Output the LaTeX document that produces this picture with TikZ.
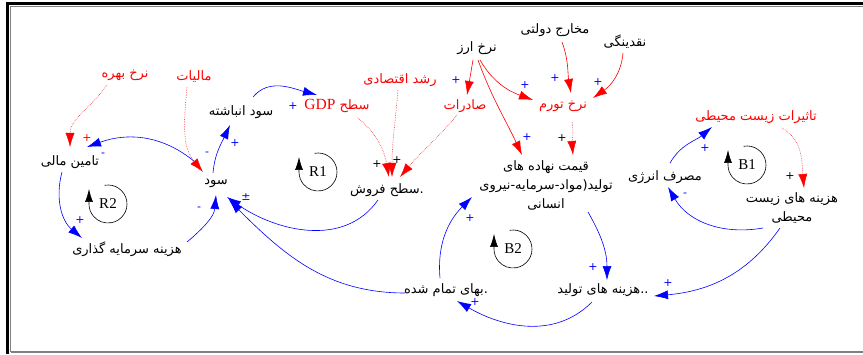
\documentclass[tikz,border=0pt]{standalone}
\usepackage{fontspec}
\setmainfont{Liberation Serif}
\newfontfamily\farsi[Script=Arabic]{DejaVu Sans}
\TeXXeTstate=1
\usetikzlibrary{arrows.meta, calc}
\newcommand{\fatxt}[1]{\beginR #1\endR}

\begin{document}
\begin{tikzpicture}[x=1pt, y=1pt,
    word/.style={font=\farsi\fontsize{13}{19}\selectfont, inner sep=1pt, align=center},
    redword/.style={word, text=red},
    sign/.style={font=\farsi\fontsize{11}{12}\selectfont, inner sep=0pt, text=blue},
    blacksign/.style={sign, text=black},
    redsign/.style={sign, text=red},
    bluelink/.style={blue, line width=0.6pt, -{Latex[length=14pt,width=9pt]}},
    redlink/.style={red, line width=0.6pt, -{Latex[length=14pt,width=9pt]}},
    reddots/.style={red, line width=0.5pt, dash pattern=on 0.6pt off 1.1pt, -{Latex[length=14pt,width=9pt]}},
    loopname/.style={font=\fontsize{15}{18}\selectfont, inner sep=0pt},
    looparrow/.style={black, line width=0.6pt, -{Latex[length=13pt,width=8pt]}}]
            \useasboundingbox (0,0) rectangle (863,354);

            % Draw the frame
            \draw[line width=3pt] (7.5,0) -- (7.5,350) -- (863,350);
            \draw[gray, line width=1pt] (10.5,2) -- (10.5,347.5) -- (863,347.5);
            \draw[gray, line width=1.2pt] (10.5,2) -- (863,2);

            % Variables in black
            \node[word] (arz) at (477,306) {\fatxt{نرخ ارز}};
            \node[word] (makharej) at (555,324) {\fatxt{مخارج دولتی}};
            \node[word] (naghdinegi) at (625,312) {\fatxt{نقدینگی}};
            \node[word] (gheymat) at (546,169) {\fatxt{قیمت نهاده های}\\\fatxt{تولید(مواد-سرمایه-نیروی}\\\fatxt{انسانی}};
            \node[word] (energy) at (665,177) {\fatxt{مصرف انرژی}};
            \node[word] (hazinezist) at (792,146) {\fatxt{هزینه های زیست}\\\fatxt{محیطی}};
            \node[word] (hazinetolid) at (603,64) {\fatxt{\hbox{..}هزینه های تولید}};
            \node[word] (baha) at (446,64) {\fatxt{\hbox{.}بهای تمام شده}};
            \node[word] (sood) at (216,171) {\fatxt{سود}};
            \node[word] (anbashte) at (241,242) {\fatxt{سود انباشته}};
            \node[word] (forush) at (387,164) {\fatxt{\hbox{.}سطح فروش}};
            \node[word] (tamin) at (70,192) {\fatxt{تامین مالی}};
            \node[word] (sarmaye) at (127,105) {\fatxt{هزینه سرمایه گذاری}};

            % Variables in red
            \node[redword] (bahre) at (125,279) {\fatxt{نرخ بهره}};
            \node[redword] (maliat) at (194,277) {\fatxt{مالیات}};
            \node[redword] (gdp) at (337,248) {\fatxt{سطح {\rmfamily\fontsize{15.5}{18}\selectfont\beginL GDP\endL}}};
            \node[redword] (roshd) at (400,274) {\fatxt{رشد اقتصادی}};
            \node[redword] (saderat) at (465,248) {\fatxt{صادرات}};
            \node[redword] (tavarom) at (563,248) {\fatxt{نرخ تورم}};
            \node[redword] (tasirat) at (756,237) {\fatxt{تاثیرات زیست محیطی}};

            % Loop markers
            \node[loopname] (R1) at (318,182) {R1};
            \draw[looparrow] ([shift={(100:19)}]R1.center) arc[start angle=100, end angle=-180, radius=19] -- ++(0,15);
            \node[loopname] (R2) at (108,150) {R2};
            \draw[looparrow] ([shift={(100:19)}]R2.center) arc[start angle=100, end angle=-180, radius=19] -- ++(0,15);
            \node[loopname] (B1) at (747,189) {B1};
            \draw[looparrow] ([shift={(100:19)}]B1.center) arc[start angle=100, end angle=-180, radius=19] -- ++(0,15);
            \node[loopname] (B2) at (513,105) {B2};
            \draw[looparrow] ([shift={(100:19)}]B2.center) arc[start angle=100, end angle=-180, radius=19] -- ++(0,15);

            % Links on the left
            \draw[bluelink] ($(sood)+(-21,21)$) to[out=140,in=20] ($(tamin)+(17,15)$);
            \draw[reddots] ($(bahre)+(-18,-10)$) to[out=235,in=90] ($(tamin)+(0,15)$);
            \draw[reddots] ($(maliat)+(-7,-10)$) to[out=265,in=130] ($(sood)+(-13,11)$);
            \draw[bluelink] ($(tamin)+(-8,-10)$) to[out=255,in=140] ($(sarmaye)+(-45,11)$);
            \draw[bluelink] ($(sarmaye)+(60,7)$) to[out=40,in=265] ($(sood)+(0,-12)$);
            \draw[bluelink] ($(sood)+(-3,10)$) to[out=85,in=245] ($(anbashte)+(-11,-13)$);
            \draw[bluelink] ($(anbashte)+(12,15)$) to[out=50,in=165] ($(gdp)+(-20,11)$);

            % Links into the sales level
            \draw[reddots] ($(gdp)+(21,-12)$) to[out=-40,in=100] ($(forush)+(2,13)$);
            \draw[reddots] ($(roshd)+(-2,-10)$) to[out=265,in=90] ($(forush)+(5,13)$);
            \draw[reddots] ($(saderat)+(-8,-9)$) to[out=230,in=50] ($(forush)+(13,13)$);
            \draw[bluelink] ($(forush)+(-9,-10)$) to[out=235,in=-35] ($(sood)+(11,-14)$);
            \draw[bluelink] ($(baha)+(-41,-3)$) to[out=180,in=-45] ($(sood)+(13,-17)$);

            % Links of the cost loop
            \draw[bluelink] ($(baha)+(-6,12)$) to[out=95,in=225] ($(gheymat)+(-74,-12)$);
            \draw[bluelink] ($(gheymat)+(42,-27)$) to[out=-60,in=90] ($(hazinetolid)+(4,10)$);
            \draw[bluelink] ($(hazinetolid)+(-11,-12)$) to[out=225,in=-30] ($(baha)+(11,-11)$);
            \draw[bluelink] ($(hazinezist)+(-12,-20)$) to[out=235,in=5] ($(hazinetolid)+(51,-6)$);
            \draw[bluelink] ($(hazinezist)+(-29,-20)$) to[out=190,in=-60] ($(energy)+(3,-10)$);
            \draw[bluelink] ($(energy)+(5,14)$) to[out=60,in=220] ($(tasirat)+(-44,-10)$);
            \draw[reddots] ($(tasirat)+(26,-11)$) to[out=-30,in=95] ($(hazinezist)+(12,20)$);

            % Links at the top
            \draw[redlink] ($(arz)+(-4,-12)$) -- ($(saderat)+(2,11)$);
            \draw[redlink] ($(arz)+(3,-12)$) to[out=-60,in=160] ($(tavarom)+(-30,6)$);
            \draw[redlink] ($(arz)+(1,-12)$) to[out=-70,in=115] ($(gheymat)+(-24,30)$);
            \draw[redlink] ($(makharej)+(7,-12)$) to[out=-70,in=100] ($(tavarom)+(8,13)$);
            \draw[redlink] ($(naghdinegi)+(-2,-11)$) to[out=-95,in=35] ($(tavarom)+(30,8)$);
            \draw[reddots] ($(tavarom)+(9,-16)$) to[out=-80,in=95] ($(gheymat)+(27,30)$);

            % Polarity signs
            \node[redsign] (p1) at (87,216) {+};
            \node[sign] (p2) at (103,199) {-};
            \node[sign] (p3) at (80,134) {+};
            \node[sign] (p4) at (199,145) {-};
            \node[sign] (p5) at (207,200) {-};
            \node[sign] (p6) at (235,211) {+};
            \node[sign] (p7) at (293,248) {+};
            \node[sign] (p8) at (246,157) {±};
            \node[blacksign] (p10) at (377,190) {+};
            \node[blacksign] (p11) at (397,194) {+};
            \node[sign] (p12) at (456,274) {+};
            \node[sign] (p13) at (525,269) {+};
            \node[sign] (p14) at (555,276) {+};
            \node[sign] (p15) at (598,272) {+};
            \node[sign] (p16) at (527,217) {+};
            \node[blacksign] (p17) at (562,216) {+};
            \node[sign] (p18) at (705,206) {+};
            \node[blacksign] (p19) at (790,178) {+};
            \node[sign] (p20) at (685,159) {-};
            \node[sign] (p21) at (668,71) {+};
            \node[sign] (p22) at (593,87) {+};
            \node[sign] (p23) at (470,136) {+};
            \node[sign] (p24) at (475,52) {+};

        \end{tikzpicture}
\end{document}
